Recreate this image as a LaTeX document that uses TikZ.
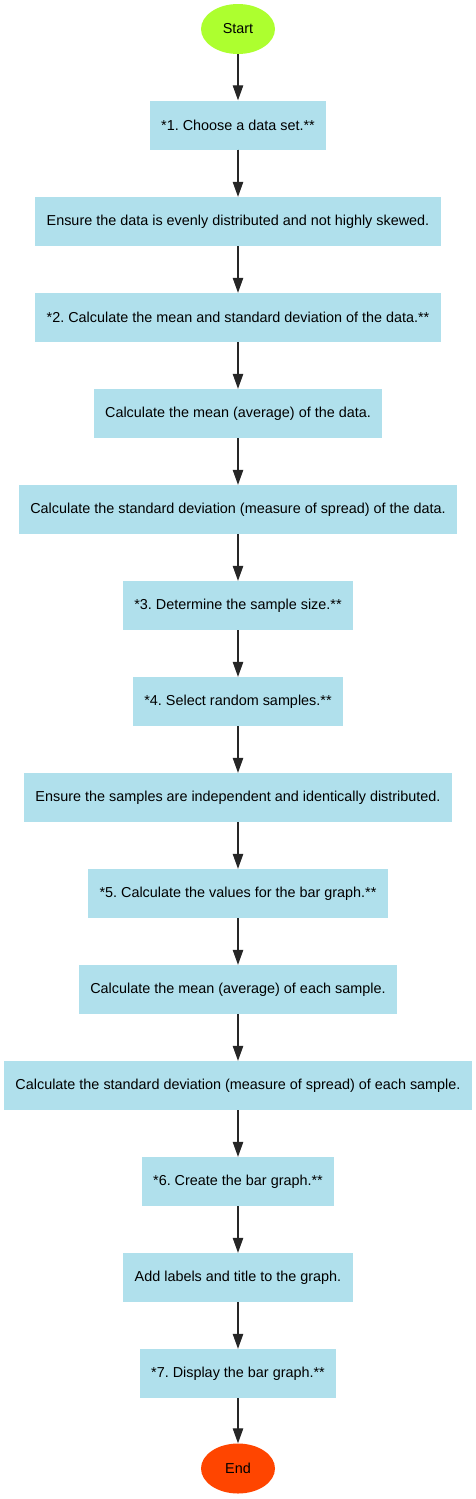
\documentclass[tikz,border=0pt]{standalone}
\usepackage{fontspec}
\setmainfont{Liberation Sans}
\usepackage{tikz}
\usetikzlibrary{shapes.geometric,arrows.meta}
\frenchspacing

\definecolor{boxblue}{HTML}{B0E0EC}
\definecolor{startgreen}{HTML}{ADFF2F}
\definecolor{endred}{HTML}{FF4500}

\tikzset{
	stepbox/.style={draw=none,fill=boxblue,rectangle,minimum height=49pt,inner xsep=11.5pt,font=\fontsize{14.4}{17}\selectfont},
	terminal/.style={draw=none,ellipse,minimum width=74pt,minimum height=50pt,inner sep=0pt,font=\fontsize{14.4}{17}\selectfont},
	flow/.style={-{Triangle[length=15pt,width=10.5pt]},line width=1.1pt,draw=black!85,fill=black}
}

\begin{document}
\begin{tikzpicture}[x=1pt,y=1pt]
		\useasboundingbox (0,0) rectangle (476,-1499);
		
		\node[terminal,fill=startgreen] (start) at (238,-29){Start};
		\node[stepbox] (s1) at (238,-125){*1. Choose a data set.**};
		\node[stepbox] (s2) at (238,-221.5){Ensure the data is evenly distributed and not highly skewed.};
		\node[stepbox] (s3) at (238,-317.5){*2. Calculate the mean and standard deviation of the data.**};
		\node[stepbox] (s4) at (238,-413.5){Calculate the mean (average) of the data.};
		\node[stepbox] (s5) at (238,-509.5){Calculate the standard deviation (measure of spread) of the data.};
		\node[stepbox] (s6) at (238,-605.5){*3. Determine the sample size.**};
		\node[stepbox] (s7) at (238,-701.5){*4. Select random samples.**};
		\node[stepbox] (s8) at (238,-797.5){Ensure the samples are independent and identically distributed.};
		\node[stepbox] (s9) at (238,-893.5){*5. Calculate the values for the bar graph.**};
		\node[stepbox] (s10) at (238,-989.5){Calculate the mean (average) of each sample.};
		\node[stepbox] (s11) at (238,-1085.5){Calculate the standard deviation (measure of spread) of each sample.};
		\node[stepbox] (s12) at (238,-1181.5){*6. Create the bar graph.**};
		\node[stepbox] (s13) at (238,-1277.5){Add labels and title to the graph.};
		\node[stepbox] (s14) at (238,-1373.5){*7. Display the bar graph.**};
		\node[terminal,fill=endred] (end) at (238,-1468.5){End};
		
		\draw[flow] (start) -- (s1);
		\draw[flow] (s1) -- (s2);
		\draw[flow] (s2) -- (s3);
		\draw[flow] (s3) -- (s4);
		\draw[flow] (s4) -- (s5);
		\draw[flow] (s5) -- (s6);
		\draw[flow] (s6) -- (s7);
		\draw[flow] (s7) -- (s8);
		\draw[flow] (s8) -- (s9);
		\draw[flow] (s9) -- (s10);
		\draw[flow] (s10) -- (s11);
		\draw[flow] (s11) -- (s12);
		\draw[flow] (s12) -- (s13);
		\draw[flow] (s13) -- (s14);
		\draw[flow] (s14) -- (end);
	\end{tikzpicture}
\end{document}
